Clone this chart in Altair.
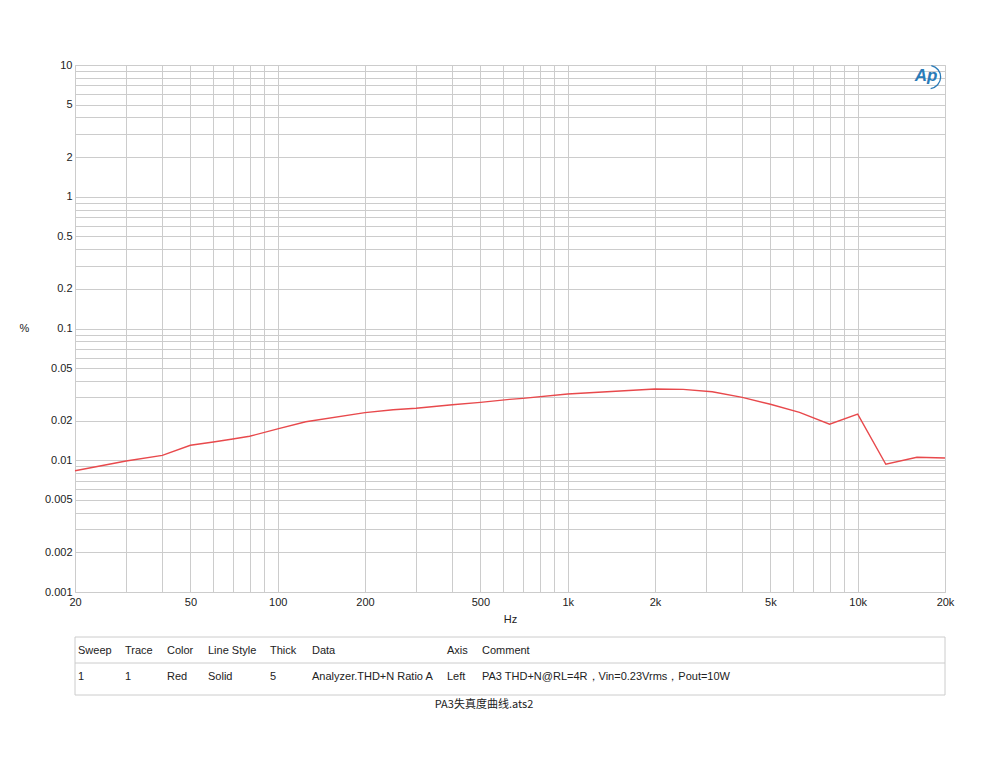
import altair as alt
import pandas as pd

# --- data ---
freq = [20, 30, 40, 50, 60, 70, 80, 100, 125, 200, 250, 300, 400, 500, 630, 700,
        1000, 2000, 2500, 3150, 4000, 5000, 6300, 8000, 10000, 12500, 16000, 20000]
thd = [0.00833, 0.00987, 0.0109, 0.0130, 0.01375, 0.0145, 0.0152, 0.0173, 0.0196,
       0.0230, 0.0242, 0.0248, 0.0264, 0.0275, 0.0290, 0.0295,
       0.0318, 0.0347, 0.0345, 0.0331, 0.0300, 0.0266, 0.0231, 0.0188, 0.0224,
       0.00932, 0.01053, 0.0104]

x_grid = [20, 30, 40, 50, 60, 70, 80, 90, 100, 200, 300, 400, 500, 600, 700, 800, 900,
          1000, 2000, 3000, 4000, 5000, 6000, 7000, 8000, 9000, 10000, 20000]
x_labels = [20, 50, 100, 200, 500, 1000, 2000, 5000, 10000, 20000]
y_grid = [0.001, 0.002, 0.003, 0.004, 0.005, 0.006, 0.007, 0.008, 0.009,
          0.01, 0.02, 0.03, 0.04, 0.05, 0.06, 0.07, 0.08, 0.09,
          0.1, 0.2, 0.3, 0.4, 0.5, 0.6, 0.7, 0.8, 0.9,
          1, 2, 3, 4, 5, 6, 7, 8, 9, 10]
y_labels = [0.001, 0.002, 0.005, 0.01, 0.02, 0.05, 0.1, 0.2, 0.5, 1, 2, 5, 10]

table_headers = ["Sweep", "Trace", "Color", "Line Style", "Thick", "Data", "Axis", "Comment"]
table_row = ["1", "1", "Red", "Solid", "5", "Analyzer.THD+N Ratio A", "Left",
             "PA3 THD+N@RL=4R，Vin=0.23Vrms，Pout=10W"]
file_name = "PA3失真度曲线.ats2"

df = pd.DataFrame({"freq": freq, "thd": thd})

W, H = 870, 527
FONT = "Liberation Sans"
GRID = "#cccccc"
TXT = "#222222"

x_lab_js = "[" + ",".join(str(v) for v in x_labels) + "]"
y_lab_js = "[" + ",".join(str(v) for v in y_labels) + "]"

line = alt.Chart(df).mark_line(color="#e8494c", strokeWidth=1.4).encode(
    x=alt.X("freq:Q",
            scale=alt.Scale(type="log", domain=[20, 20000], nice=False),
            axis=alt.Axis(values=x_grid, grid=True, gridColor=GRID, gridWidth=1,
                          domain=False, ticks=False, labelOverlap=False,
                          labelFont=FONT, labelFontSize=11, labelColor=TXT,
                          labelPadding=4, labelFlush=False,
                          labelExpr=f"indexof({x_lab_js}, datum.value) >= 0 ? (datum.value >= 1000 ? (datum.value/1000) + 'k' : datum.value + '') : ''",
                          title="Hz", titleFont=FONT, titleFontSize=11,
                          titleFontWeight="normal", titleColor=TXT,
                          titleY=27, titleBaseline="middle")),
    y=alt.Y("thd:Q",
            scale=alt.Scale(type="log", domain=[0.001, 10], nice=False),
            axis=alt.Axis(values=y_grid, grid=True, gridColor=GRID, gridWidth=1,
                          domain=False, ticks=False, labelOverlap=False,
                          labelFont=FONT, labelFontSize=11, labelColor=TXT,
                          labelPadding=3, labelFlush=False,
                          labelExpr=f"indexof({y_lab_js}, datum.value) >= 0 ? datum.value + '' : ''",
                          title="%", titleFont=FONT, titleFontSize=11,
                          titleFontWeight="normal", titleColor=TXT, titleAngle=0,
                          titleX=-51, titleY=H / 2, titleAlign="center",
                          titleBaseline="middle")),
)

one = pd.DataFrame({"k": [0]})
layers = [line]

# table frame
layers.append(alt.Chart(one).mark_rect(fill=None, stroke=GRID, strokeWidth=1).encode(
    x=alt.value(0), x2=alt.value(W), y=alt.value(572), y2=alt.value(630)))
layers.append(alt.Chart(one).mark_rule(color=GRID, strokeWidth=1).encode(
    x=alt.value(0), x2=alt.value(W), y=alt.value(598)))

col_x = [3, 50, 92, 133, 195, 237, 372, 407]
for cx, h, r in zip(col_x, table_headers, table_row):
    for txt, ty in ((h, 586), (r, 612)):
        layers.append(alt.Chart(one).mark_text(
            text=txt, align="left", baseline="middle", font=FONT, fontSize=11,
            color=TXT).encode(x=alt.value(cx), y=alt.value(ty)))

layers.append(alt.Chart(one).mark_text(
    text=file_name, align="center", baseline="middle", font="Noto Sans CJK SC",
    fontSize=11, color=TXT).encode(x=alt.value(409), y=alt.value(640)))

# AP logo
layers.append(alt.Chart(one).mark_text(
    text="Ap", align="center", baseline="middle", font=FONT, fontSize=17,
    fontStyle="italic", fontWeight="bold", color="#2a7bb8").encode(
    x=alt.value(851), y=alt.value(11)))
layers.append(alt.Chart(one).mark_arc(color="#2a7bb8").encode(
    x=alt.value(854), y=alt.value(12), radius=alt.value(11), radius2=alt.value(12.3),
    theta=alt.value(0.2), theta2=alt.value(3.0)))

chart = alt.layer(*layers).properties(
    width=W, height=H,
    autosize=alt.AutoSizeParams(type="none"),
    padding={"left": 67, "top": 57, "right": 47, "bottom": 162},
    background="white",
).configure_view(stroke=GRID, strokeWidth=1)

chart.save("out.html", embed_options={"renderer": "svg", "actions": False})
